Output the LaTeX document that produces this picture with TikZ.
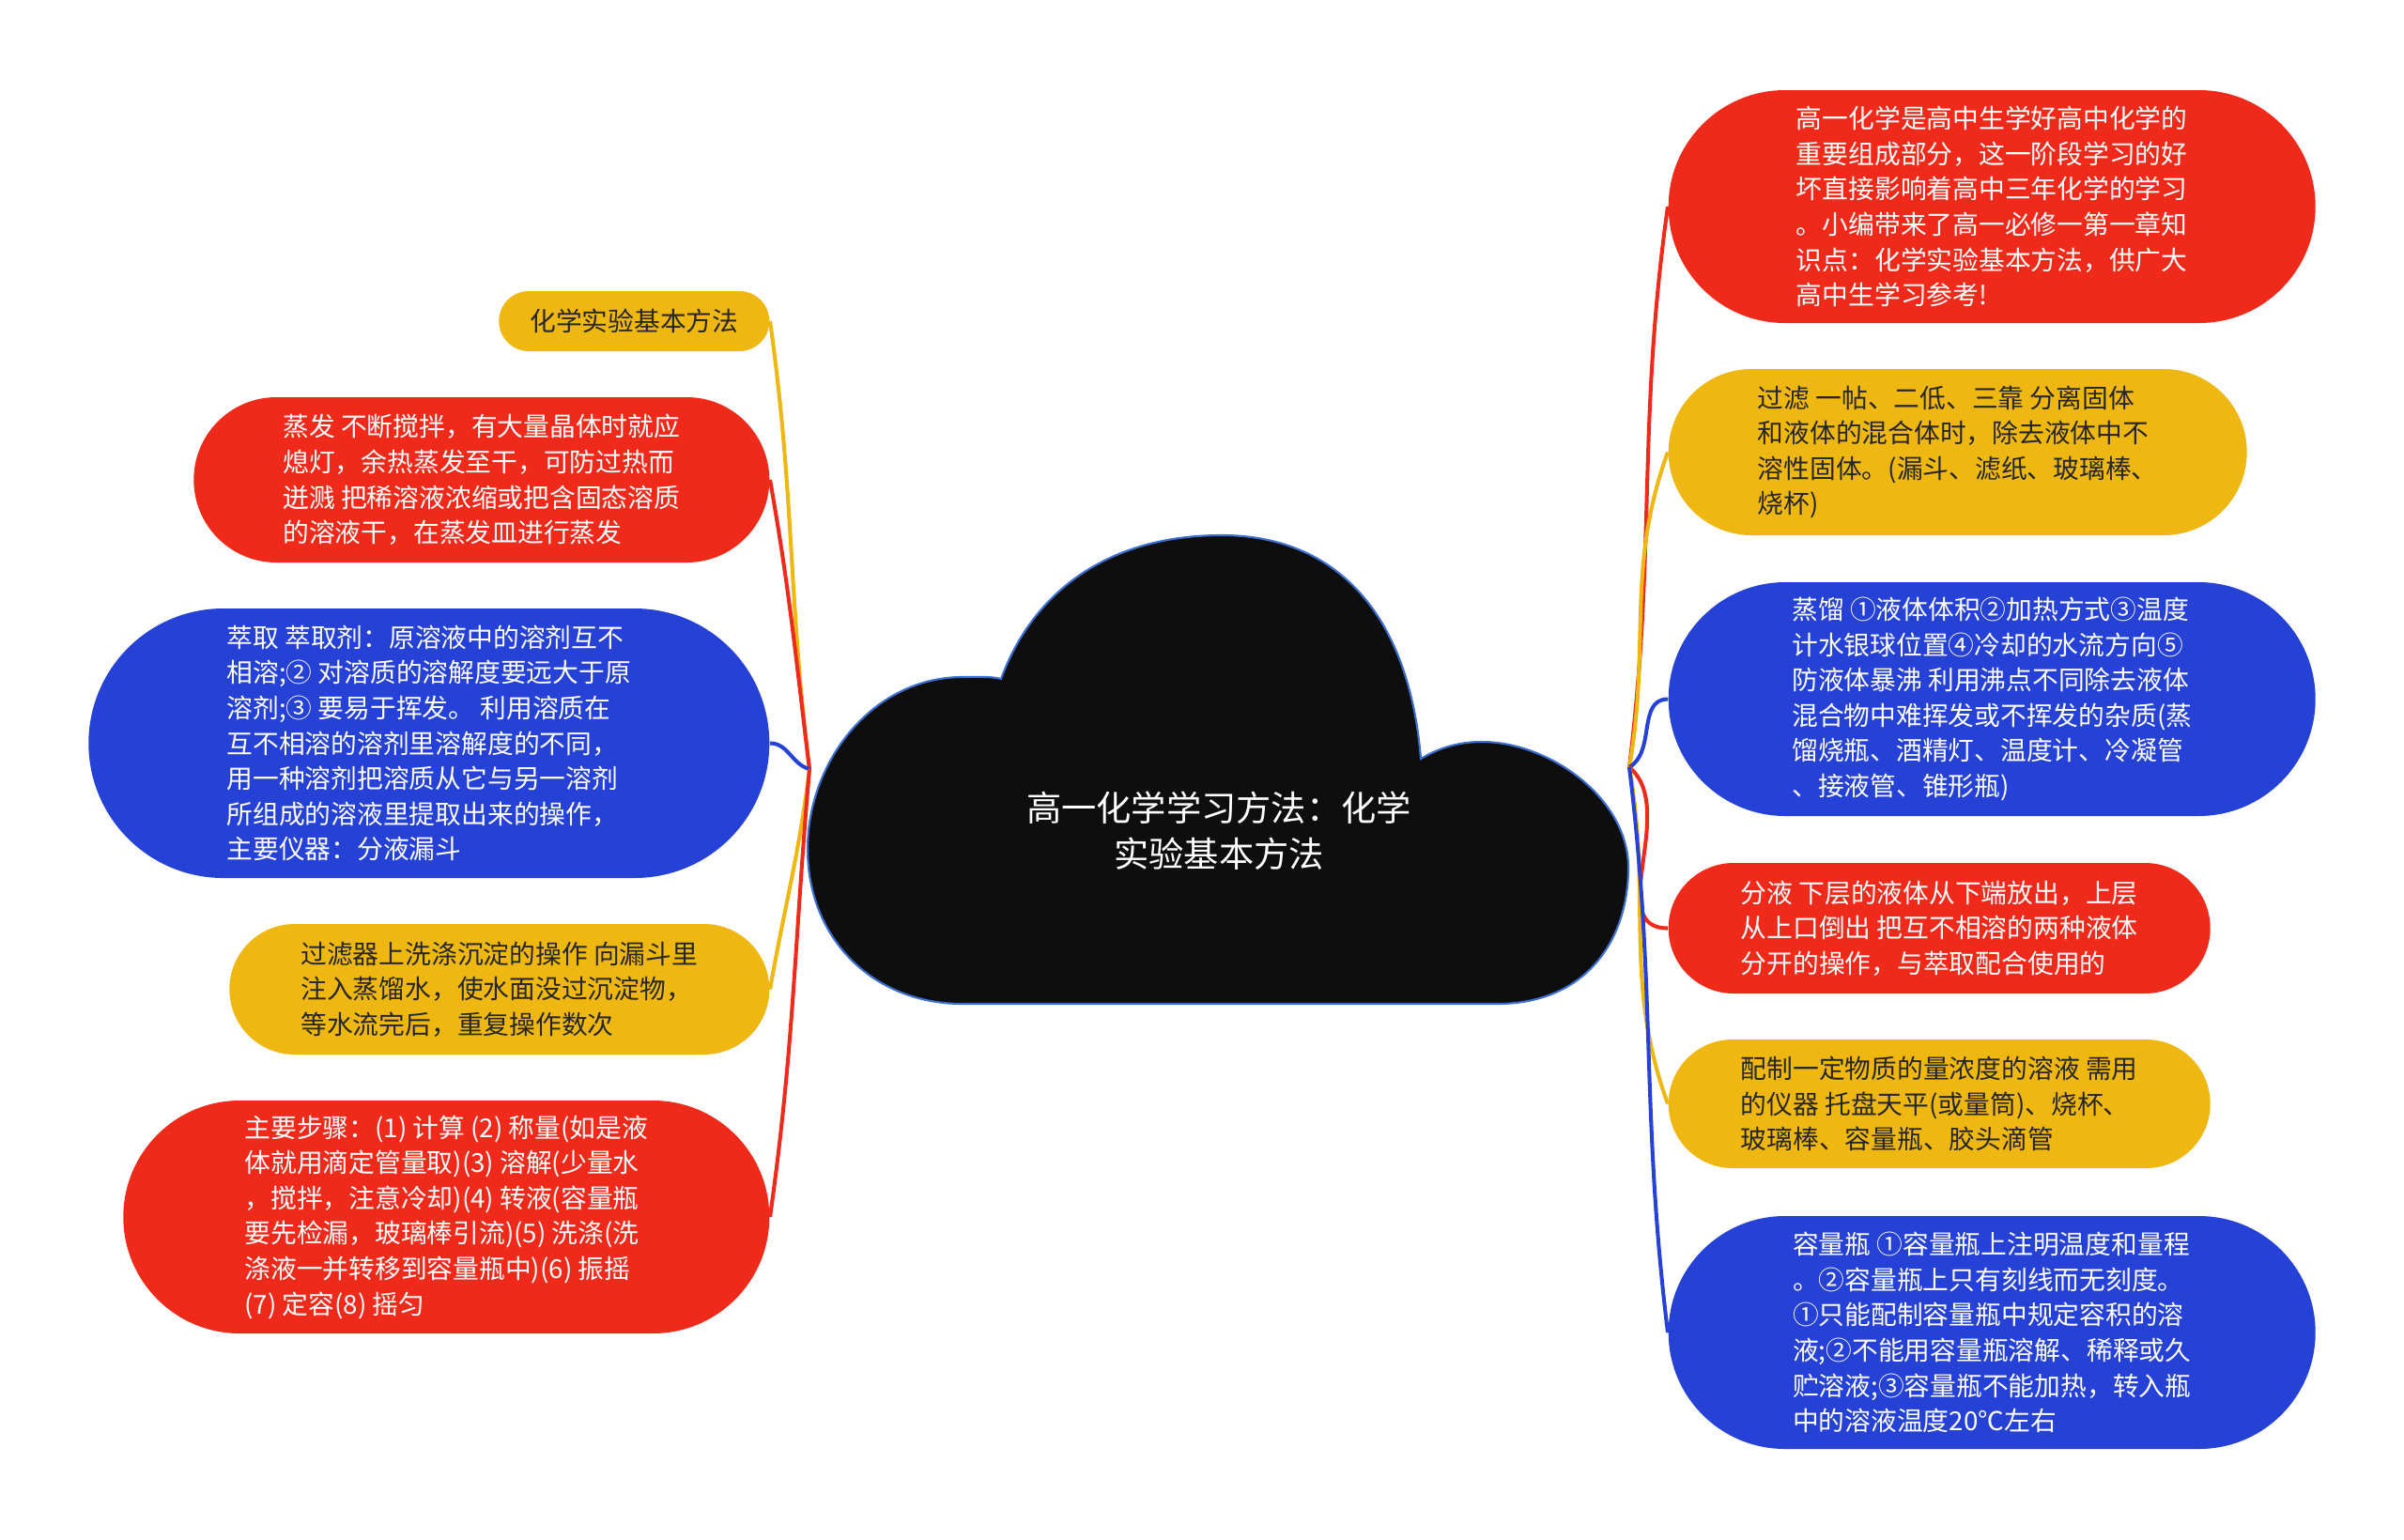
\documentclass[tikz,border=0pt]{standalone}
\usepackage{fontspec}
\setmainfont{Noto Sans CJK SC}
\usetikzlibrary{backgrounds,shapes.misc}
\definecolor{mapred}{HTML}{EF2A1B}
\definecolor{mapyellow}{HTML}{EFB711}
\definecolor{mapblue}{HTML}{2541D6}
\definecolor{cloudfill}{HTML}{0E0E0E}
\definecolor{cloudedge}{HTML}{3D6FCF}

\tikzset{
  leaf/.style={rounded rectangle, inner sep=0pt, align=left,
    font=\fontsize{7.9}{10.7}\selectfont},
  redleaf/.style={leaf, fill=mapred, text=white},
  yellowleaf/.style={leaf, fill=mapyellow, text=black!85},
  blueleaf/.style={leaf, fill=mapblue, text=white},
  link/.style={line width=1.15pt},
}

\begin{document}
\begin{tikzpicture}
  \path[use as bounding box] (0,0) rectangle (25.6,-16.39);

  % central cloud
  \filldraw[fill=cloudfill, draw=cloudedge, line width=0.6pt]
    (10.25,-10.69) -- (15.94,-10.69)
    .. controls (16.9,-10.69) and (17.34,-10.0) .. (17.34,-9.24)
    .. controls (17.34,-8.5) and (16.5,-7.9) .. (15.78,-7.90)
    .. controls (15.5,-7.90) and (15.3,-7.98) .. (15.13,-8.08)
    .. controls (15.0,-6.5) and (14.2,-5.70) .. (13.01,-5.70)
    .. controls (11.8,-5.70) and (11.0,-6.3) .. (10.66,-7.23)
    .. controls (10.55,-7.2) and (10.4,-7.21) .. (10.25,-7.21)
    .. controls (9.3,-7.21) and (8.6,-8.1) .. (8.60,-9.04)
    .. controls (8.6,-10.0) and (9.3,-10.69) .. (10.25,-10.69) -- cycle;
  \node[font=\fontsize{10.6}{13.9}\selectfont, text=white, align=center] (root)
    at (12.98,-8.85) {高一化学学习方法：化学\\实验基本方法};
  \coordinate (rootL) at (8.62,-8.19);
  \coordinate (rootR) at (17.35,-8.17);

  % left branches
  \node[yellowleaf, anchor=east, minimum width=2.88cm, minimum height=0.64cm] (method)
    at (8.2,-3.42) {化学实验基本方法};
  \node[redleaf, anchor=east, minimum width=6.13cm, minimum height=1.76cm] (evap)
    at (8.2,-5.11) {蒸发 不断搅拌，有大量晶体时就应\\熄灯，余热蒸发至干，可防过热而\\迸溅 把稀溶液浓缩或把含固态溶质\\的溶液干，在蒸发皿进行蒸发};
  \node[blueleaf, anchor=east, minimum width=7.25cm, minimum height=2.87cm] (extract)
    at (8.2,-7.915) {萃取 萃取剂：原溶液中的溶剂互不\\相溶;② 对溶质的溶解度要远大于原\\溶剂;③ 要易于挥发。 利用溶质在\\互不相溶的溶剂里溶解度的不同，\\用一种溶剂把溶质从它与另一溶剂\\所组成的溶液里提取出来的操作，\\主要仪器：分液漏斗};
  \node[yellowleaf, anchor=east, minimum width=5.75cm, minimum height=1.39cm] (wash)
    at (8.2,-10.535) {过滤器上洗涤沉淀的操作 向漏斗里\\注入蒸馏水，使水面没过沉淀物，\\等水流完后，重复操作数次};
  \node[redleaf, anchor=east, minimum width=6.88cm, minimum height=2.48cm] (steps)
    at (8.2,-12.96) {主要步骤：(1) 计算 (2) 称量(如是液\\体就用滴定管量取)(3) 溶解(少量水\\，搅拌，注意冷却)(4) 转液(容量瓶\\要先检漏，玻璃棒引流)(5) 洗涤(洗\\涤液一并转移到容量瓶中)(6) 振摇\\(7) 定容(8) 摇匀};

  % right branches
  \node[redleaf, anchor=west, minimum width=6.89cm, minimum height=2.48cm] (intro)
    at (17.76,-2.20) {高一化学是高中生学好高中化学的\\重要组成部分，这一阶段学习的好\\坏直接影响着高中三年化学的学习\\。小编带来了高一必修一第一章知\\识点：化学实验基本方法，供广大\\高中生学习参考!};
  \node[yellowleaf, anchor=west, minimum width=6.16cm, minimum height=1.77cm] (filter)
    at (17.76,-4.815) {过滤 一帖、二低、三靠 分离固体\\和液体的混合体时，除去液体中不\\溶性固体。(漏斗、滤纸、玻璃棒、\\烧杯)};
  \node[blueleaf, anchor=west, minimum width=6.89cm, minimum height=2.49cm] (distil)
    at (17.76,-7.445) {蒸馏 ①液体体积②加热方式③温度\\计水银球位置④冷却的水流方向⑤\\防液体暴沸 利用沸点不同除去液体\\混合物中难挥发或不挥发的杂质(蒸\\馏烧瓶、酒精灯、温度计、冷凝管\\、接液管、锥形瓶)};
  \node[redleaf, anchor=west, minimum width=5.77cm, minimum height=1.39cm] (separate)
    at (17.76,-9.885) {分液 下层的液体从下端放出，上层\\从上口倒出 把互不相溶的两种液体\\分开的操作，与萃取配合使用的};
  \node[yellowleaf, anchor=west, minimum width=5.77cm, minimum height=1.37cm] (prepare)
    at (17.76,-11.755) {配制一定物质的量浓度的溶液 需用\\的仪器 托盘天平(或量筒)、烧杯、\\玻璃棒、容量瓶、胶头滴管};
  \node[blueleaf, anchor=west, minimum width=6.89cm, minimum height=2.48cm] (flask)
    at (17.76,-14.19) {容量瓶 ①容量瓶上注明温度和量程\\。②容量瓶上只有刻线而无刻度。\\①只能配制容量瓶中规定容积的溶\\液;②不能用容量瓶溶解、稀释或久\\贮溶液;③容量瓶不能加热，转入瓶\\中的溶液温度20℃左右};

  \begin{scope}[on background layer]
    \fill[white] (0,0) rectangle (25.6,-16.39);
    \foreach \n/\o/\i/\c in {method/97/-82/mapyellow, evap/97/-80/mapred,
      extract/165/0/mapblue, wash/-97/80/mapyellow, steps/-95/82/mapred}
      \draw[link, \c] (rootL) to[out=\o, in=\i] (\n.east);
    \foreach \n/\o/\i/\c in {intro/83/-98/mapred, filter/80/-110/mapyellow,
      distil/30/180/mapblue, separate/-40/180/mapred,
      prepare/-80/110/mapyellow, flask/-83/97/mapblue}
      \draw[link, \c] (rootR) to[out=\o, in=\i] (\n.west);
  \end{scope}
\end{tikzpicture}
\end{document}
